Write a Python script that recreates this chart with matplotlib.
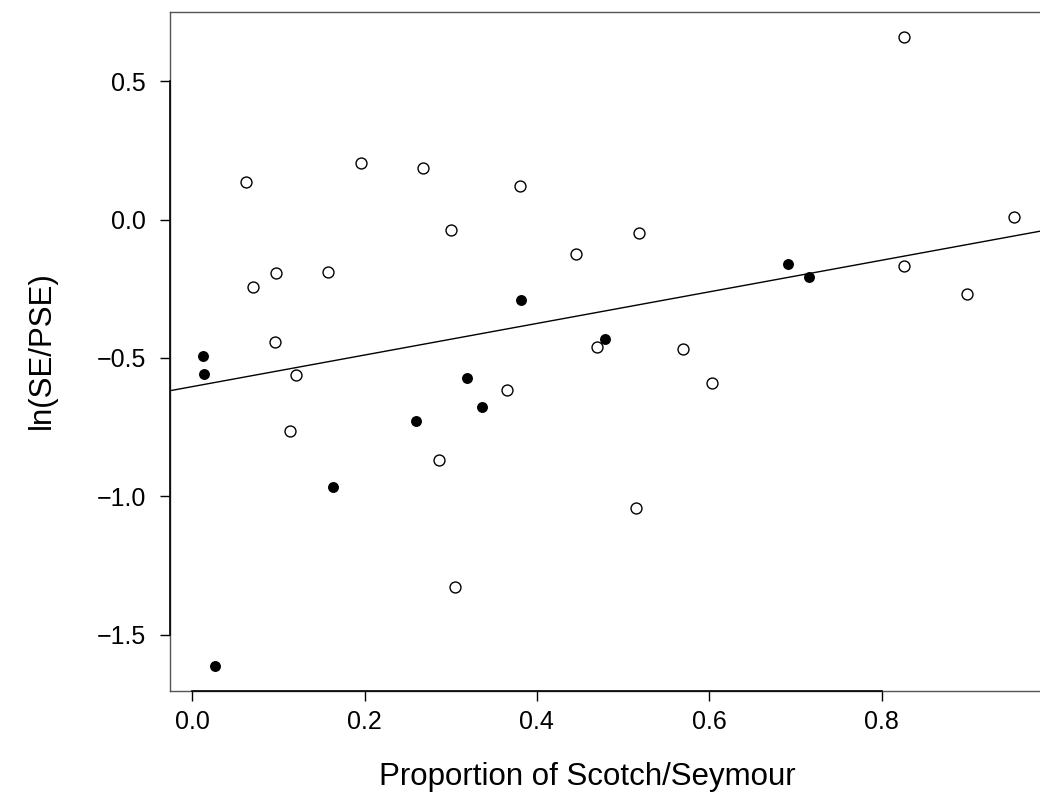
"""
Gráfico de dispersão: ln(SE/PSE) vs proporção de Scotch/Seymour,
com reta ajustada (estilo base R).
"""

import numpy as np
import matplotlib.pyplot as plt
from matplotlib import transforms

plt.rcParams["font.family"] = ["Liberation Sans", "DejaVu Sans"]

# ── Dados ─────────────────────────────────────────────────────────────────────
open_x = [0.062, 0.196, 0.268, 0.300, 0.097, 0.158, 0.071, 0.096,
          0.380, 0.518, 0.445, 0.470, 0.570,
          0.826, 0.954, 0.826, 0.899,
          0.120, 0.113, 0.286, 0.305,
          0.365, 0.603, 0.515]
open_y = [0.134, 0.204, 0.187, -0.039, -0.193, -0.188, -0.245, -0.443,
          0.121, -0.048, -0.126, -0.461, -0.467,
          0.659, 0.008, -0.167, -0.268,
          -0.562, -0.764, -0.870, -1.328,
          -0.617, -0.591, -1.044]

filled_x = [0.381, 0.479, 0.691, 0.716, 0.012, 0.014, 0.260, 0.163,
            0.026, 0.319, 0.336]
filled_y = [-0.292, -0.432, -0.161, -0.209, -0.494, -0.560, -0.727, -0.966,
            -1.612, -0.573, -0.679]

fit_intercept = -0.604
fit_slope = 0.571

x_ticks = [0.0, 0.2, 0.4, 0.6, 0.8]
y_ticks = [-1.5, -1.0, -0.5, 0.0, 0.5]

# ── Figura ────────────────────────────────────────────────────────────────────
fig = plt.figure(figsize=(10.40, 8.01), dpi=100)
ax = fig.add_axes([0.1635, 0.1377, 0.8431, 0.8473])

ax.scatter(open_x, open_y, s=62, facecolors="white", edgecolors="black",
           linewidths=1.0, zorder=3)
ax.scatter(filled_x, filled_y, s=62, color="black", linewidths=0, zorder=3)
ax.axline((0, fit_intercept), slope=fit_slope, color="black", linewidth=1.0,
          zorder=2)

all_x = np.array(open_x + filled_x)
all_y = np.array(open_y + filled_y)
pad_x = 0.04 * (all_x.max() - all_x.min())
pad_y = 0.04 * (all_y.max() - all_y.min())
ax.set_xlim(all_x.min() - pad_x, all_x.max() + pad_x)
ax.set_ylim(all_y.min() - pad_y, all_y.max() + pad_y)

for s in ax.spines.values():
    s.set_color("#555555")
    s.set_linewidth(1.0)

ax.set_xticks(x_ticks)
ax.set_xticklabels([f"{v:.1f}" for v in x_ticks])
ax.set_yticks(y_ticks)
ax.set_yticklabels([f"{v:.1f}".replace("-", "\u2212") for v in y_ticks])
ax.tick_params(axis="both", direction="out", length=7.2, width=1.0,
               color="black", labelsize=18)
ax.tick_params(axis="x", pad=7)
ax.tick_params(axis="y", pad=10)

# linhas de eixo (do primeiro ao último tick), como em R
tx = transforms.blended_transform_factory(ax.transData, ax.transAxes)
ty = transforms.blended_transform_factory(ax.transAxes, ax.transData)
ax.plot([x_ticks[0], x_ticks[-1]], [0, 0], color="black", lw=1.2,
        transform=tx, clip_on=False, zorder=4)
ax.plot([0, 0], [y_ticks[0], y_ticks[-1]], color="black", lw=1.2,
        transform=ty, clip_on=False, zorder=4)

fig.text(0.565, 0.030, "Proportion of Scotch/Seymour", fontsize=22.5,
         ha="center", va="center")
fig.text(0.040, 0.563, "ln(SE/PSE)", fontsize=22.5, rotation=90,
         ha="center", va="center")

fig.savefig("out.png", dpi=100)
